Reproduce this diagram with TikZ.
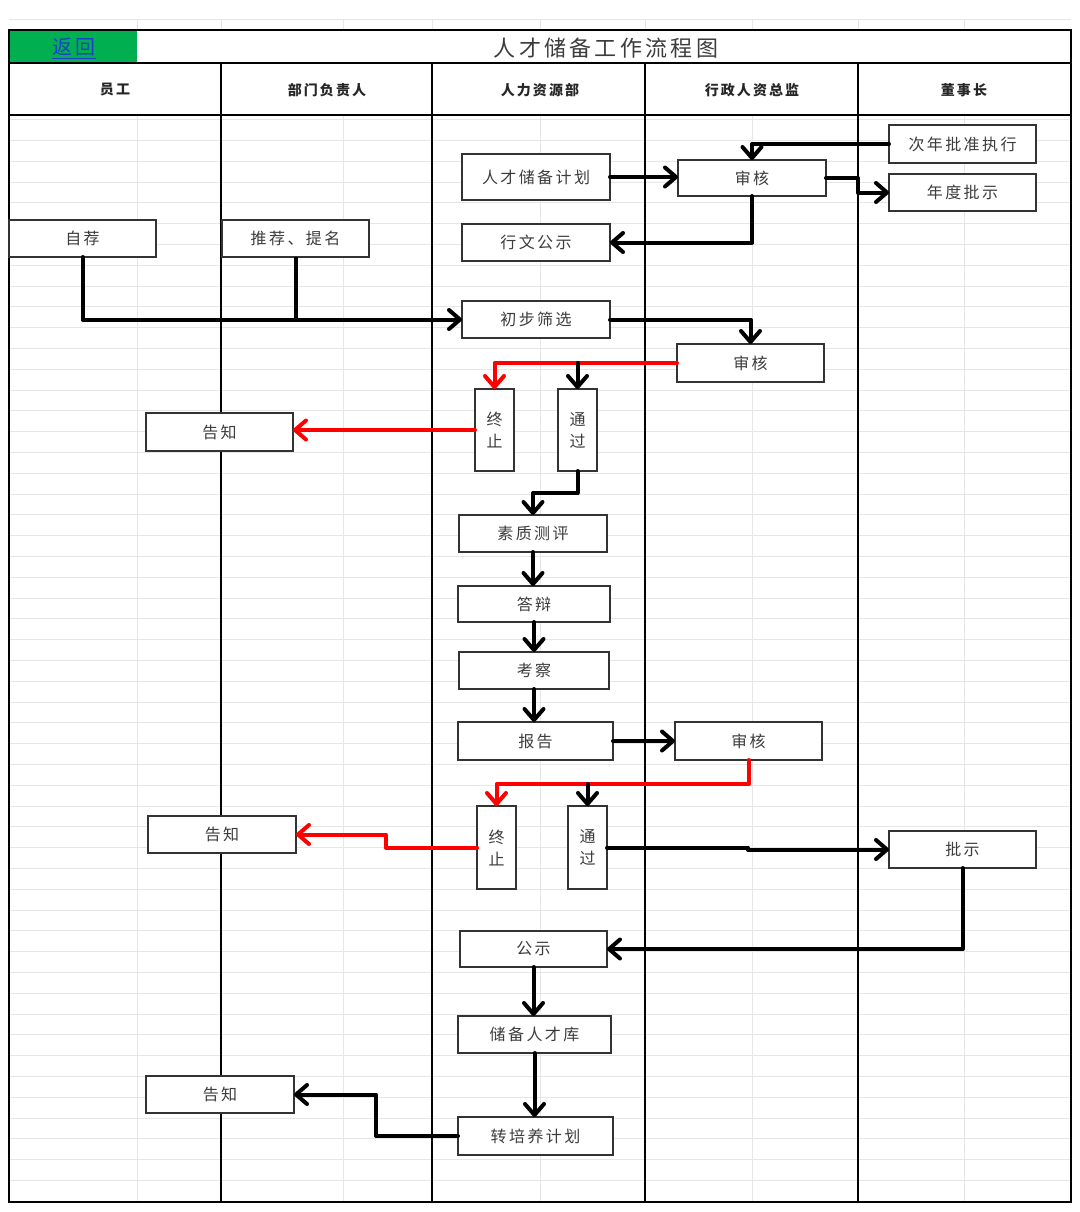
\documentclass[tikz,border=0pt]{standalone}
\usepackage{fontspec}
\newfontfamily\cjk[LetterSpace=15]{Noto Sans CJK SC}
\usetikzlibrary{arrows.meta,calc}
\definecolor{gridc}{HTML}{E6E6E6}
\definecolor{xlgreen}{HTML}{00B050}
\definecolor{linkblue}{HTML}{1F3FCC}
\definecolor{txt}{HTML}{3C3C3C}
\definecolor{redl}{HTML}{FF0000}
\tikzset{
  box/.style={draw=black!80, line width=0.7pt, fill=white, inner sep=0pt, outer sep=0pt,
    font=\cjk\fontsize{8}{11}\selectfont, text=txt, align=center},
  hdr/.style={font=\cjk\bfseries\fontsize{7}{9}\selectfont, text=black!85},
  tline/.style={line width=1pt, draw=black},
  gline/.style={line width=0.5pt, draw=gridc},
  arr/.style={line width=2pt, draw=black, line join=round, line cap=round,
    -{Straight Barb[length=5.5pt,width=9.5pt,line width=2pt,round]}},
  plain/.style={line width=2pt, draw=black, line join=round},
  rarr/.style={arr, draw=redl, color=redl},
}
\newcommand\bx[6]{\node[box, minimum width={(#4-#2)*0.5pt}, minimum height={(#5-#3)*0.5pt}] (#1) at ({(#2+#4)/2},{(#3+#5)/2}) {#6};}
\begin{document}
\begin{tikzpicture}[x=0.5pt,y=-0.5pt]
\useasboundingbox (0,0) rectangle (1080,1212);
% spreadsheet grid
\draw[gline] (9,19.5) -- (1071,19.5);
\foreach \gx in {137,221,343,432,540,645,752,858,964} \draw[gline] (\gx,19.5) -- (\gx,30);
\foreach \k in {-22,...,29} \draw[gline] (9,{577.3+20.8*\k}) -- (1071,{577.3+20.8*\k});
\foreach \gx in {137,343,540,752,964} \draw[gline] (\gx,115) -- (\gx,1202);
% title row
\fill[xlgreen] (9,30) rectangle (137,63);
\node[font=\cjk\fontsize{10}{12}\selectfont, text=linkblue] (back) at (74,49) {\underline{返回}};
\node[font=\cjk\fontsize{11}{13}\selectfont, text=txt] (title) at (606,48) {人才储备工作流程图};
% table lines
\draw[tline, line width=1.2pt] (9,30) rectangle (1071,1202);
\draw[tline] (9,63) -- (1071,63);
\draw[tline] (9,115) -- (1071,115);
\foreach \cx in {221,432,645,858} \draw[tline] (\cx,63) -- (\cx,1202);
% headers
\node[hdr] (h1) at (115,90) {员工};
\node[hdr] (h2) at (327,90) {部门负责人};
\node[hdr] (h3) at (540,90) {人力资源部};
\node[hdr] (h4) at (752,90) {行政人资总监};
\node[hdr] (h5) at (964,90) {董事长};
% boxes
\bx{cn}{889}{125}{1036}{163}{次年批准执行}
\bx{plan}{462}{154}{610}{200}{人才储备计划}
\bx{sh1}{678}{160}{826}{196}{审核}
\bx{nd}{889}{174}{1036}{211}{年度批示}
\bx{zj}{9}{220}{156}{257}{自荐}
\bx{tj}{222}{220}{369}{257}{推荐、提名}
\bx{xw}{462}{224}{610}{261}{行文公示}
\bx{cs}{462}{301}{610}{338}{初步筛选}
\bx{sh2}{677}{344}{824}{382}{审核}
\bx{zz1}{475}{389}{514}{471}{终\\止}
\bx{tg1}{558}{389}{597}{471}{通\\过}
\bx{gz1}{146}{413}{293}{451}{告知}
\bx{szcp}{459}{515}{607}{552}{素质测评}
\bx{db}{458}{586}{610}{622}{答辩}
\bx{kc}{459}{652}{609}{689}{考察}
\bx{bg}{458}{722}{613}{760}{报告}
\bx{sh3}{675}{722}{822}{760}{审核}
\bx{zz2}{477}{806}{516}{889}{终\\止}
\bx{tg2}{568}{806}{607}{889}{通\\过}
\bx{gz2}{148}{816}{296}{853}{告知}
\bx{ps}{889}{831}{1036}{868}{批示}
\bx{gs}{460}{931}{607}{967}{公示}
\bx{cb}{458}{1016}{611}{1053}{储备人才库}
\bx{gz3}{146}{1076}{294}{1113}{告知}
\bx{zpy}{458}{1117}{613}{1155}{转培养计划}
% connectors
\draw[arr] (cn.west) -| (sh1.north);
\draw[arr] (plan.east) -- (plan.east -| sh1.west);
\draw[arr] (sh1.east) -- ++(32,0) |- (nd.west);
\draw[arr] (sh1.south) |- (xw.east);
\draw[arr] (zj.south) |- (cs.west);
\draw[plain] (tj.south) -- (tj.south |- cs.west);
\draw[arr] (cs.east) -| (sh2.north);
\draw[rarr] (sh2.west) -| (zz1.north);
\draw[arr] (sh2.west -| tg1.north) -- (tg1.north);
\draw[rarr] (zz1.west) -- (zz1.west -| gz1.east);
\draw[arr] (tg1.south) -- ++(0,22) -| (szcp.north);
\draw[arr] (szcp.south) -- (szcp.south |- db.north);
\draw[arr] (db.south) -- (db.south |- kc.north);
\draw[arr] (kc.south) -- (kc.south |- bg.north);
\draw[arr] (bg.east) -- (bg.east -| sh3.west);
\draw[rarr] (sh3.south) -- ++(0,24) coordinate (r2) -| (zz2.north);
\draw[arr] (r2 -| tg2.north) -- (tg2.north);
\draw[rarr] (zz2.west) -- ++(-91,0) |- (gz2.east);
\draw[arr] (tg2.east) -- ++(141,0) |- (ps.west);
\draw[arr] (ps.south) |- (gs.east);
\draw[arr] (gs.south) -- (gs.south |- cb.north);
\draw[arr] (cb.south) -- (cb.south |- zpy.north);
\draw[arr] (zpy.west) -- ++(-82,0) |- (gz3.east);
\end{tikzpicture}
\end{document}
